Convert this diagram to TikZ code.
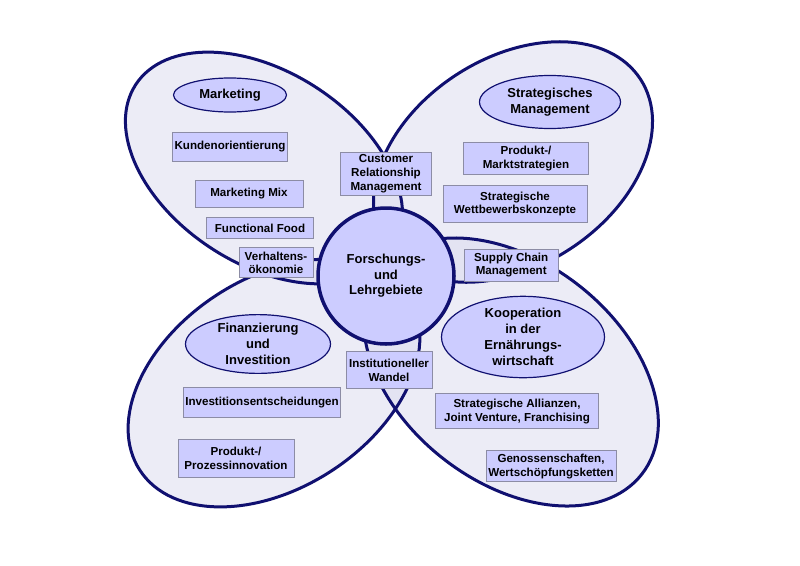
\documentclass[tikz,border=0pt]{standalone}
\usepackage{fontspec}
\setmainfont{Liberation Sans}
\usetikzlibrary{shapes.geometric, positioning}
\definecolor{fbnavy}{RGB}{16,16,112}
\definecolor{fblav}{RGB}{204,204,255}
\definecolor{fbpetal}{RGB}{218,218,238}
\definecolor{fbgrey}{RGB}{140,140,165}

\begin{document}
\begin{tikzpicture}[x=1pt, y=-1pt,
  petalfill/.style={fill=fbpetal, fill opacity=0.5},
  petalline/.style={draw=fbnavy, line width=3pt},
  hub/.style={circle, draw=fbnavy, line width=3.5pt, fill=fblav, minimum size=136pt, align=center, font=\fontsize{13}{15.5}\selectfont\bfseries},
  topic/.style={ellipse, draw=fbnavy, line width=1.2pt, fill=fblav, inner sep=0pt, align=center, font=\fontsize{13}{16}\selectfont\bfseries},
  itembox/.style={rectangle, draw=fbgrey, line width=0.9pt, fill=fblav, inner sep=1pt, align=center, font=\fontsize{11.6}{13.8}\selectfont\bfseries}
]
\useasboundingbox (0,0) rectangle (800,565);
\path[petalfill, rotate around={-33:(264,168)}] (264,168) ellipse (153 and 96);
\path[petalfill, rotate around={33:(513,162)}] (513,162) ellipse (152 and 104);
\path[petalfill, rotate around={33:(274,383)}] (274,383) ellipse (160 and 105);
\path[petalfill, rotate around={-38:(511,372)}] (511,372) ellipse (166 and 110);
\draw[petalline, rotate around={-33:(264,168)}] (264,168) ellipse (153 and 96);
\draw[petalline, rotate around={33:(513,162)}] (513,162) ellipse (152 and 104);
\draw[petalline, rotate around={33:(274,383)}] (274,383) ellipse (160 and 105);
\draw[petalline, rotate around={-38:(511,372)}] (511,372) ellipse (166 and 110);

\node[hub] (hub) at (386,276) {Forschungs-\\und\\Lehrgebiete};
\node[itembox, minimum width=91pt, minimum height=43pt, above=10.5pt of hub] (crm) {Customer\\Relationship\\Management};
\node[itembox, minimum width=86pt, minimum height=37pt, below=5.5pt of hub, xshift=3pt] (inst) {Institutioneller\\Wandel};
\node[itembox, minimum width=94pt, minimum height=32pt, right=8pt of hub, yshift=11pt] (scm) {Supply Chain\\Management};

\node[topic, minimum width=113pt, minimum height=34pt] (mkt) at (230,95) {Marketing};
\node[itembox, minimum width=115pt, minimum height=29pt, below=19pt of mkt] (kund) {Kundenorientierung};
\node[itembox, minimum width=108pt, minimum height=27pt, below=18pt of kund, xshift=19pt] (mix) {Marketing Mix};
\node[itembox, minimum width=107pt, minimum height=21pt, below=10pt of mix, xshift=11pt] (food) {Functional Food};
\node[itembox, minimum width=74pt, minimum height=30pt, below=8pt of food, xshift=16pt] (verh) {Verhaltens-\\ökonomie};

\node[topic, minimum width=141pt, minimum height=53pt] (strat) at (550,102) {Strategisches\\Management};
\node[itembox, minimum width=125pt, minimum height=32pt, below=13pt of strat, xshift=-24pt] (markt) {Produkt-/\\Marktstrategien};
\node[itembox, minimum width=144pt, minimum height=37pt, below=10pt of markt, xshift=-11pt] (wett) {Strategische\\Wettbewerbskonzepte};

\node[topic, minimum width=145pt, minimum height=58pt] (fin) at (258,344) {Finanzierung\\und\\Investition};
\node[itembox, minimum width=157pt, minimum height=30pt, below=13pt of fin, xshift=4pt] (inv) {Investitionsentscheidungen};
\node[itembox, minimum width=116pt, minimum height=38pt, below=21pt of inv, xshift=-26pt] (proz) {Produkt-/\\Prozessinnovation};

\node[topic, minimum width=163pt, minimum height=79pt] (koop) at (523,337) {Kooperation\\in der\\Ernährungs-\\wirtschaft};
\node[itembox, minimum width=163pt, minimum height=35pt, below=15pt of koop, xshift=-6pt] (allianz) {Strategische Allianzen,\\Joint Venture, Franchising};
\node[itembox, minimum width=130pt, minimum height=31pt, below=21pt of allianz, xshift=34pt] (geno) {Genossenschaften,\\Wertschöpfungsketten};
\end{tikzpicture}
\end{document}
